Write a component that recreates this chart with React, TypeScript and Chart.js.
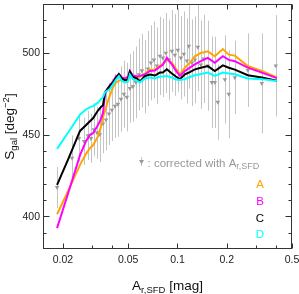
import React, { useEffect, useRef } from "react";
import { Chart, registerables } from "chart.js";
Chart.register(...registerables);

// ---- data ----
const lineX = [0.0184, 0.0215, 0.0254, 0.0276, 0.0292, 0.0305, 0.0327, 0.0341, 0.0351, 0.0361, 0.0376, 0.0387, 0.0404, 0.0421, 0.0439, 0.0458, 0.0478, 0.0498, 0.0512, 0.0534, 0.0565, 0.059, 0.0632, 0.0679, 0.0728, 0.0781, 0.0814, 0.0861, 0.0924, 0.0977, 0.1034, 0.1109, 0.1189, 0.1276, 0.1388, 0.1532, 0.169, 0.1891, 0.2057, 0.2238, 0.2687, 0.327, 0.404];
const seriesA = [401.3, 415.6, 431.5, 438.1, 441.7, 443.5, 448.9, 454.9, 460.9, 464.5, 470.6, 474.0, 479.0, 482.0, 482.9, 483.8, 483.8, 484.4, 488.0, 485.6, 485.0, 485.6, 487.4, 489.8, 489.8, 492.2, 493.4, 495.8, 494.0, 490.4, 487.0, 491.0, 494.0, 498.0, 500.0, 501.0, 498.0, 502.4, 499.0, 498.4, 492.0, 489.0, 485.0];
const seriesB = [392.8, 414.1, 437.5, 445.9, 449.9, 450.9, 455.9, 459.7, 463.3, 474.9, 478.4, 480.2, 482.6, 485.6, 487.0, 485.0, 484.4, 485.6, 489.0, 486.2, 485.6, 486.0, 486.8, 489.0, 489.2, 491.6, 492.8, 497.0, 493.0, 489.2, 486.0, 489.0, 491.0, 493.0, 495.0, 497.0, 494.0, 498.0, 495.8, 495.0, 491.0, 488.0, 484.6];
const seriesC = [419.3, 434.9, 452.3, 455.8, 458.2, 460.0, 464.8, 466.9, 468.0, 476.0, 478.4, 480.0, 482.0, 485.0, 487.1, 484.4, 483.2, 483.8, 488.6, 485.3, 484.4, 482.6, 485.9, 486.8, 486.2, 488.0, 488.0, 490.0, 487.4, 485.6, 484.0, 487.0, 488.3, 490.0, 491.0, 492.0, 489.0, 492.4, 491.0, 489.8, 486.4, 485.0, 483.0];
const seriesD = [441.3, 451.3, 462.3, 465.4, 466.9, 467.5, 469.6, 471.8, 473.0, 476.0, 477.2, 477.9, 480.8, 483.5, 485.9, 482.9, 482.0, 482.4, 486.8, 484.0, 483.0, 482.0, 484.4, 485.0, 484.4, 485.6, 485.6, 485.9, 485.0, 483.8, 483.5, 484.0, 485.3, 486.4, 487.1, 488.0, 486.0, 488.0, 487.4, 487.0, 484.4, 484.0, 482.8];

const grayX = [0.0184, 0.0227, 0.025, 0.0269, 0.0284, 0.0296, 0.0309, 0.0322, 0.0336, 0.0351, 0.0366, 0.0382, 0.0398, 0.0415, 0.0433, 0.0452, 0.0471, 0.0491, 0.0512, 0.0534, 0.0557, 0.0581, 0.0606, 0.0632, 0.066, 0.0688, 0.0718, 0.0748, 0.0781, 0.0814, 0.0849, 0.0886, 0.0924, 0.0964, 0.1005, 0.1049, 0.1094, 0.1141, 0.1173, 0.1224, 0.1276, 0.1331, 0.1388, 0.1448, 0.1532, 0.162, 0.169, 0.1762, 0.1945, 0.2057, 0.2238, 0.2687, 0.327, 0.398];
const grayY = [417.7, 435.7, 447.7, 445.9, 449.5, 447.7, 453.1, 451.3, 450.1, 456.7, 459.1, 462.7, 465.1, 467.5, 468.7, 471.8, 474.8, 473.0, 478.4, 479.6, 482.0, 486.8, 489.2, 485.6, 490.4, 494.0, 495.8, 492.2, 498.2, 497.0, 500.0, 495.8, 501.2, 498.8, 501.8, 497.0, 499.4, 495.2, 504.2, 494.0, 495.8, 503.6, 492.8, 496.4, 492.2, 482.0, 482.0, 469.9, 483.8, 474.8, 485.0, 489.5, 481.4, 492.2];
const grayErr = [12.6, 13.8, 14, 14.5, 15, 15, 16, 16, 17, 18, 18.5, 19, 19, 19.5, 20, 20, 20.5, 21, 21, 21.5, 22, 22, 22.5, 22.5, 23, 23, 23.5, 23.5, 24, 24, 24.5, 24.5, 25, 25, 25.5, 25.5, 26, 26, 26, 26.5, 26.5, 27, 27, 27, 27.5, 28, 28, 23, 27, 27, 22.5, 22.5, 30.6, 31];

const yMajorTicks = [400, 450, 500];
const yMinorTicks = [390, 410, 420, 430, 440, 460, 470, 480, 490, 510, 520];
const xMajorTicks = [0.02, 0.05, 0.1, 0.2, 0.5];
const xTickLabels = ["0.02", "0.05", "0.1", "0.2", "0.5"];
const xMinorTicks = [0.03, 0.04, 0.3, 0.4];
const seriesNames = ["A", "B", "C", "D"];
const seriesColors = ["#FFA500", "#FF00FF", "#000000", "#00FFFF"];

const FONT = "'Liberation Sans', Arial, Helvetica, sans-serif";

type Part = { t: string; size: number; dy: number };

function richWidth(ctx: CanvasRenderingContext2D, parts: Part[]) {
  let w = 0;
  for (const p of parts) {
    ctx.font = `${p.size}px ${FONT}`;
    w += ctx.measureText(p.t).width;
  }
  return w;
}
function drawRich(ctx: CanvasRenderingContext2D, parts: Part[], x: number, y: number) {
  let cx = x;
  ctx.textBaseline = "alphabetic";
  ctx.textAlign = "left";
  for (const p of parts) {
    ctx.font = `${p.size}px ${FONT}`;
    ctx.fillText(p.t, cx, y + p.dy);
    cx += ctx.measureText(p.t).width;
  }
}

export default function App() {
  const ref = useRef<HTMLCanvasElement>(null);
  useEffect(() => {
    document.body.style.margin = "0";
    const canvas = ref.current!;

    const errorBars = {
      id: "errorBars",
      beforeDatasetsDraw(chart: any) {
        const { ctx, chartArea } = chart;
        const xs = chart.scales.x, ys = chart.scales.y;
        ctx.save();
        ctx.beginPath();
        ctx.rect(chartArea.left, chartArea.top, chartArea.right - chartArea.left, chartArea.bottom - chartArea.top);
        ctx.clip();
        ctx.strokeStyle = "#c4c4c4";
        ctx.lineWidth = 1;
        for (let i = 0; i < grayX.length; i++) {
          const px = Math.round(xs.getPixelForValue(grayX[i])) + 0.5;
          ctx.beginPath();
          ctx.moveTo(px, ys.getPixelForValue(grayY[i] - grayErr[i]));
          ctx.lineTo(px, ys.getPixelForValue(grayY[i] + grayErr[i]));
          ctx.stroke();
        }
        ctx.restore();
      },
    };

    const frame = {
      id: "frame",
      afterDraw(chart: any) {
        const { ctx, chartArea } = chart;
        const xs = chart.scales.x, ys = chart.scales.y;
        const L = chartArea.left + 0.5, R = chartArea.right - 0.5;
        const T = chartArea.top + 0.5, B = chartArea.bottom - 0.5;
        const axisColor = "#333";
        ctx.save();
        ctx.strokeStyle = axisColor;
        ctx.lineWidth = 1;
        ctx.strokeRect(L, T, R - L, B - T);
        ctx.beginPath();
        const yTick = (v: number, len: number) => {
          const py = Math.round(ys.getPixelForValue(v)) + 0.5;
          ctx.moveTo(L, py); ctx.lineTo(L + len, py);
          ctx.moveTo(R, py); ctx.lineTo(R - len, py);
        };
        yMajorTicks.forEach((v) => yTick(v, 6));
        yMinorTicks.forEach((v) => yTick(v, 3));
        const xTick = (v: number, len: number) => {
          const px = Math.round(xs.getPixelForValue(v)) + 0.5;
          ctx.moveTo(px, B); ctx.lineTo(px, B - len);
          ctx.moveTo(px, T); ctx.lineTo(px, T + len);
        };
        xMajorTicks.forEach((v) => xTick(v, 5));
        xMinorTicks.forEach((v) => xTick(v, 3));
        ctx.stroke();

        // tick labels
        ctx.fillStyle = "#222";
        ctx.font = `10.5px ${FONT}`;
        ctx.textAlign = "right";
        ctx.textBaseline = "middle";
        yMajorTicks.forEach((v) => ctx.fillText(String(v), 40, ys.getPixelForValue(v) + 0.5));
        ctx.textAlign = "center";
        ctx.textBaseline = "alphabetic";
        xMajorTicks.forEach((v, i) => ctx.fillText(xTickLabels[i], xs.getPixelForValue(v), 263));

        // x title
        ctx.fillStyle = "#111";
        const xt: Part[] = [
          { t: "A", size: 13.5, dy: 0 },
          { t: "r,SFD", size: 9.5, dy: 2.5 },
          { t: " [mag]", size: 13.5, dy: 0 },
        ];
        const xw = richWidth(ctx, xt);
        drawRich(ctx, xt, (chartArea.left + chartArea.right) / 2 - xw / 2, 290);

        // y title
        const yt: Part[] = [
          { t: "S", size: 13.5, dy: 0 },
          { t: "gal", size: 9.5, dy: 2.5 },
          { t: " [deg", size: 13.5, dy: 0 },
          { t: "\u22122", size: 9.5, dy: -5 },
          { t: "]", size: 13.5, dy: 0 },
        ];
        const yw = richWidth(ctx, yt);
        ctx.save();
        ctx.translate(14, (chartArea.top + chartArea.bottom) / 2);
        ctx.rotate(-Math.PI / 2);
        drawRich(ctx, yt, -yw / 2, 0);
        ctx.restore();

        // annotation
        ctx.fillStyle = "#999";
        ctx.strokeStyle = "#c4c4c4";
        ctx.beginPath();
        ctx.moveTo(141.5, 157); ctx.lineTo(141.5, 166);
        ctx.stroke();
        ctx.beginPath();
        ctx.moveTo(139, 160); ctx.lineTo(144, 160); ctx.lineTo(141.5, 164.5); ctx.closePath();
        ctx.fill();
        const an: Part[] = [
          { t: ": corrected with A", size: 11.5, dy: 0 },
          { t: "r,SFD", size: 9, dy: 2.5 },
        ];
        drawRich(ctx, an, 147.5, 166.5);

        // legend letters
        ctx.textAlign = "center";
        ctx.textBaseline = "alphabetic";
        ctx.font = `11.5px ${FONT}`;
        const legY = [187.5, 204.5, 221.5, 238];
        seriesNames.forEach((n, i) => {
          ctx.fillStyle = seriesColors[i];
          ctx.fillText(n, 260, legY[i]);
        });
        ctx.restore();
      },
    };

    const allSeries = [seriesA, seriesB, seriesC, seriesD];
    const lineSets = allSeries.map((s, k) => ({
      label: seriesNames[k],
      data: lineX.map((x, i) => ({ x, y: s[i] })),
      borderColor: seriesColors[k],
      backgroundColor: seriesColors[k],
      borderWidth: 2,
      pointRadius: 0,
      tension: 0,
      fill: false,
      order: 4 - k,
    }));

    const chart = new Chart(canvas, {
      type: "line",
      data: {
        datasets: [
          {
            label: "corrected",
            data: grayX.map((x, i) => ({ x, y: grayY[i] })),
            showLine: false,
            pointStyle: "triangle",
            pointRotation: 180,
            pointRadius: 2.6,
            pointBackgroundColor: "#999",
            pointBorderColor: "#999",
            pointBorderWidth: 0,
            order: 10,
          } as any,
          ...lineSets,
        ],
      },
      options: {
        responsive: false,
        animation: false,
        layout: { padding: { left: 43, right: 7, top: 0, bottom: 45 } },
        plugins: { legend: { display: false }, tooltip: { enabled: false } },
        scales: {
          x: { type: "logarithmic", min: 0.0151, max: 0.5, display: false },
          y: { type: "linear", min: 380, max: 530, display: false },
        },
      },
      plugins: [errorBars, frame],
    });
    return () => chart.destroy();
  }, []);
  return <canvas ref={ref} width={299} height={294} style={{ display: "block" }} />;
}
